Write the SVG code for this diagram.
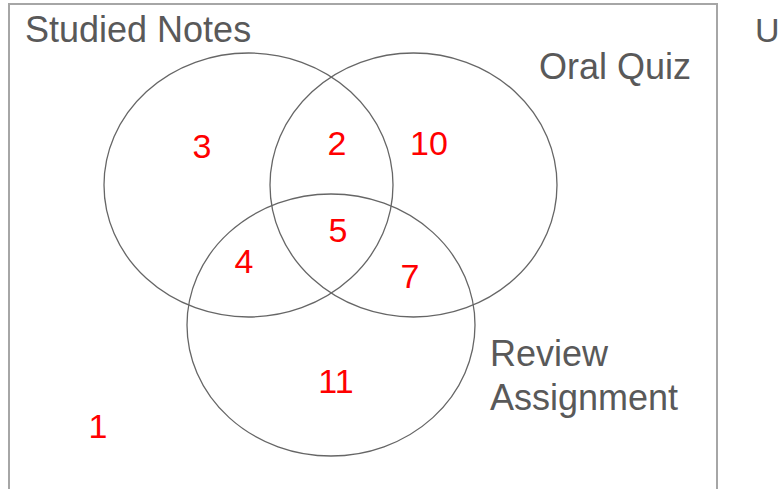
<svg xmlns="http://www.w3.org/2000/svg" width="781" height="489" viewBox="0 0 781 489">
<style>
.lbl{font-family:"Liberation Sans",Arial,sans-serif;font-size:36px;fill:#595959}
.num{font-family:"Liberation Sans",Arial,sans-serif;font-size:34px;fill:#ff0000;text-anchor:middle}
.set{fill:none;stroke:#666;stroke-width:1.3}
</style>
<rect width="781" height="489" fill="#fff"/>
<g id="universe">
<rect x="9" y="4" width="708" height="500" fill="none" stroke="#a6a6a6" stroke-width="2"/>
<text class="lbl" x="755" y="42" style="font-size:34px">U</text>
</g>
<g id="studied-notes">
<ellipse class="set" cx="248.5" cy="185" rx="144.5" ry="132"/>
<text class="lbl" x="25" y="42">Studied Notes</text>
</g>
<g id="oral-quiz">
<ellipse class="set" cx="413.5" cy="185" rx="143.5" ry="132"/>
<text class="lbl" x="539" y="79">Oral Quiz</text>
</g>
<g id="review-assignment">
<ellipse class="set" cx="331" cy="325" rx="144" ry="131"/>
<text class="lbl" x="490" y="366">Review</text>
<text class="lbl" x="490" y="410">Assignment</text>
</g>
<g id="counts">
<text class="num" x="202" y="158">3</text>
<text class="num" x="337" y="155">2</text>
<text class="num" x="429" y="155">10</text>
<text class="num" x="338" y="242">5</text>
<text class="num" x="244" y="273">4</text>
<text class="num" x="410" y="288">7</text>
<text class="num" x="336" y="393">11</text>
<text class="num" x="98" y="438">1</text>
</g>
<g id="connectors"/>
</svg>
